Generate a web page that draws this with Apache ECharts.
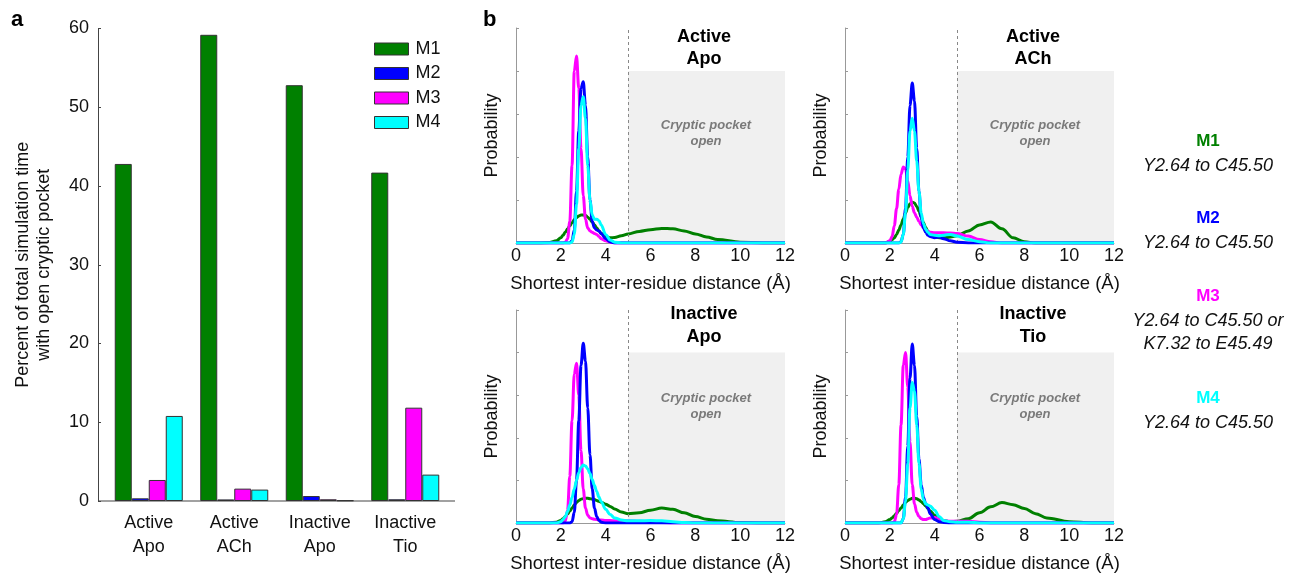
<!DOCTYPE html>
<html>
<head>
<meta charset="utf-8">
<script src="https://cdn.jsdelivr.net/npm/echarts@6/dist/echarts.min.js"></script>
<style>
  html, body { margin: 0; padding: 0; background: #fff; }
  #chart { width: 1289px; height: 574px; }
</style>
</head>
<body>
<div id="chart"></div>
<script>
// panel a: percent of simulation time with open cryptic pocket
const conditions = ["Active\nApo", "Active\nACh", "Inactive\nApo", "Inactive\nTio"];
const motifs = ["M1", "M2", "M3", "M4"];
const motifColors = ["#008000", "#0000ff", "#ff00ff", "#00ffff"];
const pctM1 = [42.8, 59.2, 52.8, 41.7];
const pctM2 = [0.34, 0.2, 0.63, 0.22];
const pctM3 = [2.67, 1.57, 0.22, 11.85];
const pctM4 = [10.8, 1.45, 0.08, 3.35];

// panel b: distance distributions (shared x samples)
const distances = [0, 1, 1.5, 1.8, 2.0, 2.1, 2.2, 2.3, 2.4, 2.5, 2.6, 2.7, 2.8, 2.9, 3.0, 3.1, 3.2, 3.3, 3.4, 3.5, 3.6, 3.7, 3.8, 4.0, 4.2, 4.4, 4.7, 5.0, 5.5, 6.0, 6.5, 7.0, 7.5, 8.0, 8.5, 9.0, 10, 11, 12];

const activeApoM1 = [0,0,0.01,0.05,0.12,0.18,0.25,0.33,0.40,0.47,0.54,0.59,0.63,0.65,0.65,0.64,0.60,0.55,0.49,0.42,0.35,0.28,0.22,0.15,0.12,0.13,0.17,0.21,0.27,0.31,0.34,0.33,0.28,0.21,0.14,0.08,0.02,0,0];
const activeApoM2 = [0,0,0,0,0,0,0,0,0,0.05,0.3,1.2,2.6,3.6,3.75,3.2,2.0,1.0,0.5,0.35,0.3,0.28,0.22,0.1,0.03,0,0,0,0,0,0,0,0,0,0,0,0,0,0];
const activeApoM3 = [0,0,0,0,0,0,0.02,0.1,0.5,1.8,4.0,4.35,3.6,2.2,1.1,0.55,0.35,0.28,0.25,0.22,0.2,0.15,0.1,0.05,0.02,0,0,0,0,0,0,0,0,0,0,0,0,0,0];
const activeApoM4 = [0,0,0,0,0,0,0,0,0,0.02,0.2,0.9,2.2,3.2,3.4,2.9,1.8,1.0,0.65,0.55,0.55,0.52,0.42,0.2,0.07,0.02,0,0,0,0,0,0,0,0,0,0,0,0,0];

const activeAChM1 = [0,0,0,0,0.04,0.08,0.12,0.2,0.3,0.42,0.56,0.7,0.82,0.91,0.95,0.93,0.85,0.74,0.6,0.47,0.36,0.27,0.2,0.14,0.12,0.12,0.14,0.17,0.28,0.42,0.49,0.33,0.12,0.03,0,0,0,0,0];
const activeAChM2 = [0,0,0,0,0,0,0,0,0,0.03,0.2,0.8,2.0,3.2,3.72,3.3,2.2,1.2,0.6,0.35,0.25,0.18,0.15,0.12,0.14,0.1,0.05,0.02,0,0,0,0,0,0,0,0,0,0,0];
const activeAChM3 = [0,0,0,0,0.05,0.15,0.4,0.8,1.25,1.6,1.77,1.72,1.45,1.1,0.85,0.7,0.6,0.5,0.42,0.35,0.3,0.27,0.25,0.24,0.24,0.24,0.23,0.22,0.16,0.08,0.03,0,0,0,0,0,0,0,0];
const activeAChM4 = [0,0,0,0,0,0,0,0,0,0.02,0.2,0.7,1.7,2.6,2.9,2.6,1.9,1.2,0.7,0.45,0.32,0.25,0.2,0.18,0.17,0.18,0.2,0.16,0.08,0.03,0,0,0,0,0,0,0,0,0];

const inactiveApoM1 = [0,0,0,0.02,0.06,0.1,0.15,0.21,0.28,0.35,0.42,0.48,0.53,0.56,0.57,0.58,0.58,0.57,0.56,0.55,0.53,0.51,0.49,0.44,0.39,0.33,0.26,0.22,0.24,0.3,0.35,0.32,0.24,0.15,0.09,0.05,0.01,0,0];
const inactiveApoM2 = [0,0,0,0,0,0,0,0,0,0.03,0.25,1.0,2.4,3.7,4.22,3.8,2.7,1.6,0.8,0.35,0.15,0.06,0.02,0,0,0,0,0,0,0,0,0,0,0,0,0,0,0,0];
const inactiveApoM3 = [0,0,0,0,0,0,0.05,0.3,1.1,2.4,3.5,3.75,3.0,1.7,0.8,0.35,0.18,0.12,0.1,0.09,0.08,0.07,0.07,0.06,0.06,0.05,0.05,0.05,0.04,0.03,0.01,0,0,0,0,0,0,0,0];
const inactiveApoM4 = [0,0,0,0,0.03,0.08,0.15,0.27,0.42,0.6,0.8,1.0,1.18,1.3,1.36,1.34,1.27,1.16,1.02,0.88,0.74,0.61,0.5,0.32,0.2,0.12,0.07,0.05,0.05,0.06,0.05,0.03,0.01,0,0,0,0,0,0];

const inactiveTioM1 = [0,0,0,0.03,0.08,0.12,0.17,0.23,0.29,0.35,0.42,0.48,0.53,0.56,0.58,0.58,0.57,0.54,0.5,0.45,0.4,0.34,0.28,0.18,0.11,0.06,0.03,0.04,0.1,0.24,0.38,0.48,0.43,0.34,0.22,0.12,0.03,0,0];
const inactiveTioM2 = [0,0,0,0,0,0,0,0,0,0,0.1,0.6,1.8,3.4,4.2,3.7,2.5,1.5,0.9,0.6,0.45,0.35,0.22,0.08,0.03,0.01,0,0,0,0,0,0,0,0,0,0,0,0,0];
const inactiveTioM3 = [0,0,0,0,0,0,0.03,0.2,0.9,2.3,3.7,4.0,3.2,1.9,0.9,0.45,0.25,0.15,0.1,0.08,0.08,0.1,0.12,0.13,0.09,0.05,0.04,0.04,0.04,0.02,0,0,0,0,0,0,0,0,0];
const inactiveTioM4 = [0,0,0,0,0,0,0,0,0,0,0.1,0.5,1.4,2.7,3.3,3.1,2.3,1.4,0.8,0.55,0.45,0.42,0.4,0.3,0.15,0.06,0.03,0.02,0.02,0,0,0,0,0,0,0,0,0,0];

const panelTitles = ["Active\nApo", "Active\nACh", "Inactive\nApo", "Inactive\nTio"];
const panelCurves = [
  [activeApoM1, activeApoM2, activeApoM3, activeApoM4],
  [activeAChM1, activeAChM2, activeAChM3, activeAChM4],
  [inactiveApoM1, inactiveApoM2, inactiveApoM3, inactiveApoM4],
  [inactiveTioM1, inactiveTioM2, inactiveTioM3, inactiveTioM4]
];
const openCutoff = 5;

const motifNotes = [
  ["M1", "Y2.64 to C45.50"],
  ["M2", "Y2.64 to C45.50"],
  ["M3", "Y2.64 to C45.50 or\nK7.32 to E45.49"],
  ["M4", "Y2.64 to C45.50"]
];

const FONT = "'Liberation Sans', Arial, Helvetica, sans-serif";
var chartDom = document.getElementById("chart");
var myChart = echarts.init(chartDom);

// layout of the small panels
const panelGrids = [
  { left: 516, top: 28 },
  { left: 845, top: 28 },
  { left: 516, top: 310 },
  { left: 845, top: 310 }
];

var grids = [{ left: 106, top: 28.5, width: 342, height: 472.5 }];
var xAxes = [{
  type: "category",
  gridIndex: 0,
  data: conditions,
  axisLine: { show: false },
  axisTick: { show: false },
  axisLabel: { fontFamily: FONT, fontSize: 18, color: "#111", lineHeight: 24, margin: 10 }
}];
var yAxes = [{
  type: "value",
  gridIndex: 0,
  min: 0, max: 60, interval: 10,
  offset: 8,
  name: "Percent of total simulation time\nwith open cryptic pocket",
  nameLocation: "middle",
  nameGap: 43,
  nameTextStyle: { fontFamily: FONT, fontSize: 18, color: "#111", lineHeight: 21 },
  axisLine: { show: true, lineStyle: { color: "#444", width: 1 } },
  axisTick: { show: true, inside: true, length: 3, lineStyle: { color: "#444" } },
  axisLabel: { fontFamily: FONT, fontSize: 18, color: "#111", margin: 9 },
  splitLine: { show: false }
}];

var series = [];
const pctSeries = [pctM1, pctM2, pctM3, pctM4];
motifs.forEach((m, i) => {
  series.push({
    name: m,
    type: "bar",
    xAxisIndex: 0,
    yAxisIndex: 0,
    data: pctSeries[i],
    barWidth: 17,
    barGap: "0%",
    itemStyle: { color: motifColors[i], borderColor: "#333", borderWidth: 1 }
  });
});

function label(x, y, text, font, fill, lineHeight) {
  return {
    type: "text", x: x, y: y, z: 100,
    style: { text: text, font: font, fill: fill, align: "center", verticalAlign: "top", lineHeight: lineHeight }
  };
}

var graphics = [
  { type: "line", shape: { x1: 98, y1: 501, x2: 455, y2: 501 }, style: { stroke: "#444", lineWidth: 1.2 } },
  { type: "text", x: 11, y: 9, style: { text: "a", font: "bold 22px " + FONT, fill: "#000" } },
  { type: "text", x: 483, y: 9, style: { text: "b", font: "bold 22px " + FONT, fill: "#000" } }
];

// draw order: green, magenta, blue, cyan
const drawOrder = [0, 2, 1, 3];

panelGrids.forEach((g, p) => {
  const gi = p + 1;
  grids.push({ left: g.left, top: g.top, width: 269, height: 215 });
  xAxes.push({
    type: "value",
    gridIndex: gi,
    min: 0, max: 12, interval: 2,
    name: "Shortest inter-residue distance (Å)",
    nameLocation: "middle",
    nameGap: 31,
    nameTextStyle: { fontFamily: FONT, fontSize: 18.5, color: "#111" },
    axisLine: { show: true, lineStyle: { color: "#999" } },
    axisTick: { show: false },
    axisLabel: { fontFamily: FONT, fontSize: 18, color: "#111", margin: 4 },
    splitLine: { show: false }
  });
  yAxes.push({
    type: "value",
    gridIndex: gi,
    min: 0, max: 5, interval: 1,
    name: "Probability",
    nameLocation: "middle",
    nameGap: 15,
    nameTextStyle: { fontFamily: FONT, fontSize: 18, color: "#111" },
    axisLine: { show: true, lineStyle: { color: "#999", width: 1 } },
    axisTick: { show: true, inside: true, length: 3, lineStyle: { color: "#999" } },
    axisLabel: { show: false },
    splitLine: { show: false }
  });

  drawOrder.forEach((k, n) => {
    const s = {
      name: motifs[k],
      type: "line",
      xAxisIndex: gi,
      yAxisIndex: gi,
      data: distances.map((d, j) => [d, panelCurves[p][k][j]]),
      smooth: 0.35,
      smoothMonotone: "x",
      showSymbol: false,
      symbol: "none",
      lineStyle: { color: motifColors[k], width: 3 },
      itemStyle: { color: motifColors[k] },
      z: 3 + n
    };
    if (n === 0) {
      s.markArea = {
        silent: true,
        itemStyle: { color: "#f0f0f0" },
        data: [[{ coord: [openCutoff, 0] }, { coord: [12, 4] }]]
      };
      s.markLine = {
        silent: true,
        symbol: "none",
        label: { show: false },
        lineStyle: { color: "#888", type: [3, 3], width: 1 },
        data: [[{ coord: [openCutoff, 0] }, { coord: [openCutoff, 5] }]]
      };
    }
    series.push(s);
  });

  const cx = g.left + 188;
  const top = p < 2;
  graphics.push(label(cx, top ? 26 : 303, panelTitles[p], "bold 18px " + FONT, "#000", top ? 22 : 23));
  graphics.push(label(cx + 2, top ? 117 : 390, "Cryptic pocket\nopen", "italic bold 13px " + FONT, "#7a7a7a", 16.5));
});

// motif annotations on the right
const noteCenters = [140, 217, 295, 397];
motifNotes.forEach((note, i) => {
  graphics.push(label(1208, noteCenters[i] - 9, note[0], "bold 17px " + FONT, motifColors[i], 20));
  graphics.push(label(1208, noteCenters[i] + 14, note[1], "italic 18px " + FONT, "#111", 23));
});

var option = {
  animation: false,
  backgroundColor: "#fff",
  legend: {
    data: motifs,
    orient: "vertical",
    left: 369,
    top: 35,
    icon: "rect",
    itemWidth: 34,
    itemHeight: 12,
    itemGap: 6.5,
    itemStyle: { borderColor: "#333", borderWidth: 1 },
    textStyle: { fontFamily: FONT, fontSize: 18, color: "#111", padding: [0, 0, 0, 2] }
  },
  grid: grids,
  xAxis: xAxes,
  yAxis: yAxes,
  series: series,
  graphic: graphics
};

option && myChart.setOption(option);
</script>
</body>
</html>
